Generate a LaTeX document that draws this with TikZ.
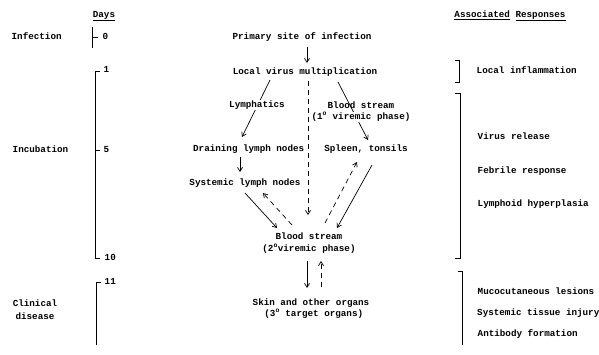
\documentclass[tikz,border=0pt]{standalone}
\usepackage{fontspec}
\newfontfamily\mono{Liberation Mono}
\usetikzlibrary{arrows.meta,backgrounds}
\newcommand{\dg}{\textsuperscript{o}}
\begin{document}
\begin{tikzpicture}[x=1pt,y=-1pt,
  txt/.style={font=\mono\bfseries\fontsize{9.25}{11}\selectfont, inner sep=0.5pt, text height=6.5pt, text depth=2pt, fill=white},
  arr/.style={-{Straight Barb[length=4pt,width=5pt]}, line width=0.7pt},
  darr/.style={arr, dash pattern=on 5pt off 4pt},
  brk/.style={line width=0.8pt}]
\useasboundingbox (0,0) rectangle (599,354);
% headings and left labels
\node[txt] (days) at (104,15) {\underline{Days}};
\node[txt] (resp) at (510,15) {\underline{Associated} \underline{Responses}};
\node[txt,anchor=west] (infection) at (11,37) {Infection};
\node[txt,anchor=west] (incub) at (12,150) {Incubation};
\node[txt,align=center,font=\mono\bfseries\fontsize{9.25}{13}\selectfont] (clin) at (35,317) {Clinical\\disease};
% day labels
\node[txt,anchor=west] (d0) at (102,37) {0};
\node[txt,anchor=west] (d1) at (103,70) {1};
\node[txt,anchor=west] (d5) at (103,150) {5};
\node[txt,anchor=west] (d10) at (104,258) {10};
\node[txt,anchor=west] (d11) at (104,282) {11};
% day axis
\draw[brk] (92,27) -- (92,48);
\draw[brk] (92,37) -- ([xshift=-4pt]d0.west);
\draw[brk] ([xshift=-3pt]d1.west |- 0,71) -- (95,71) -- (95,258) -- ([xshift=-4pt]d10.west |- 0,258);
\draw[brk] (95,150) -- ([xshift=-3pt]d5.west);
\draw[brk] ([xshift=-3pt]d11.west |- 0,282) -- (96,282) -- (96,345);
% central flow
\node[txt] (primary) at (302,37) {Primary site of infection};
\node[txt] (local) at (305,72) {Local virus multiplication};
\node[txt] (lymph) at (257,105) {Lymphatics};
\node[txt,align=center] (blood1) at (361,117) {Blood stream\\(1\dg\ viremic phase)};
\node[txt] (drain) at (248.7,149) {Draining lymph nodes};
\node[txt] (spleen) at (366,149) {Spleen, tonsils};
\node[txt] (syst) at (245,183) {Systemic lymph nodes};
\node[txt,align=center,font=\mono\bfseries\fontsize{9.25}{11.5}\selectfont] (blood2) at (309,249) {Blood stream\\(2\dg viremic phase)};
\node[txt,align=center] (skin) at (311,314.5) {Skin and other organs\\\ (3\dg\ target organs)};
% connector end points
\coordinate (p1) at (307,47);  \coordinate (p2) at (307,63);
\coordinate (l1) at (270,80);  \coordinate (l2) at (242,137);
\coordinate (b1) at (338,82);  \coordinate (b2) at (368,140);
\coordinate (v1) at (308,81);  \coordinate (v2) at (308,215);
\coordinate (dr1) at (240,157); \coordinate (dr2) at (240,172);
\coordinate (s1) at (245,193); \coordinate (s2) at (277,228);
\coordinate (s3) at (292,225); \coordinate (s4) at (263,193);
\coordinate (t1) at (325,223); \coordinate (t2) at (357,162);
\coordinate (t3) at (372,165); \coordinate (t4) at (337,228);
\coordinate (k1) at (307,261); \coordinate (k2) at (307,288);
\coordinate (k3) at (321,287); \coordinate (k4) at (321,261);
\begin{pgfonlayer}{background}
\draw[arr] (p1) -- (p2);
\draw[arr] (l1) -- (l2);
\draw[arr] (b1) -- (b2);
\draw[darr] (v1) -- (v2);
\draw[arr] (dr1) -- (dr2);
\draw[arr] (s1) -- (s2);
\draw[darr] (s3) -- (s4);
\draw[darr] (t1) -- (t2);
\draw[arr] (t3) -- (t4);
\draw[arr] (k1) -- (k2);
\draw[darr] (k3) -- (k4);
\end{pgfonlayer}
% associated responses
\draw[brk] (455,60) -- (459,60) -- (459,82) -- (455,82);
\draw[brk] (455,93) -- (460,93) -- (460,258) -- (455,258);
\draw[brk] (458,271) -- (462,271) -- (462,345);
\node[txt,anchor=west] (r1) at (476,71) {Local inflammation};
\node[txt,anchor=west] (r2) at (477,137) {Virus release};
\node[txt,anchor=west] (r3) at (477,171) {Febrile response};
\node[txt,anchor=west] (r4) at (477,204) {Lymphoid hyperplasia};
\node[txt,anchor=west] (r5) at (477,292) {Mucocutaneous lesions};
\node[txt,anchor=west] (r6) at (476.5,313) {Systemic tissue injury};
\node[txt,anchor=west] (r7) at (477,334) {Antibody formation};
\end{tikzpicture}
\end{document}
